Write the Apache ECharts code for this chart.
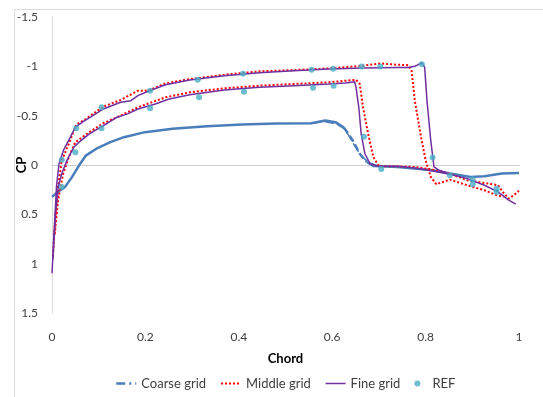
<!DOCTYPE html>
<html>
<head>
<meta charset="utf-8">
<script src="https://cdn.jsdelivr.net/npm/echarts@6/dist/echarts.min.js"></script>
<style>
html,body{margin:0;padding:0;background:#fff;}
#chart{width:543px;height:397px;}
</style>
</head>
<body>
<div id="chart"></div>
<script>
// ---- data (x = chord, y = Cp) ----
const xTicks = [0, 0.2, 0.4, 0.6, 0.8, 1];
const yTicks = [-1.5, -1, -0.5, 0, 0.5, 1, 1.5];

const coarseMain = [[0,0.323],[0.013,0.272],[0.028,0.222],[0.043,0.121],[0.058,0.003],[0.073,-0.098],[0.095,-0.165],[0.125,-0.232],[0.154,-0.282],[0.199,-0.333],[0.258,-0.367],[0.332,-0.393],[0.407,-0.41],[0.481,-0.42],[0.555,-0.424],[0.585,-0.451],[0.607,-0.434],[0.625,-0.38]];
const coarseShock = [[0.625,-0.38],[0.644,-0.249],[0.659,-0.114],[0.674,-0.03]];
const coarseTail = [[0.674,-0.03],[0.688,0.01],[0.74,0.02],[0.815,0.054],[0.852,0.087],[0.896,0.121],[0.926,0.114],[0.963,0.087],[1.0,0.081]];
const coarseLower = [[0.555,-0.42],[0.583,-0.44],[0.61,-0.415],[0.628,-0.36],[0.645,-0.22],[0.662,-0.09],[0.68,-0.02],[0.7,0.012]];

const middleUpper = [[0.002,0.92],[0.007,0.525],[0.013,0.222],[0.021,-0.047],[0.036,-0.215],[0.052,-0.41],[0.073,-0.468],[0.11,-0.592],[0.147,-0.659],[0.184,-0.753],[0.206,-0.753],[0.243,-0.827],[0.295,-0.871],[0.369,-0.915],[0.444,-0.949],[0.518,-0.962],[0.592,-0.979],[0.666,-1.006],[0.703,-1.029],[0.74,-1.016],[0.763,-1.012],[0.77,-0.955],[0.777,-0.65],[0.789,-0.316],[0.8,-0.047],[0.811,0.12],[0.823,0.195],[0.837,0.172],[0.852,0.148],[0.889,0.205],[0.926,0.256],[0.952,0.306],[0.967,0.323]];
const middleLower = [[0.006,0.7],[0.013,0.356],[0.024,0.087],[0.036,-0.08],[0.05,-0.232],[0.08,-0.333],[0.11,-0.424],[0.147,-0.5],[0.184,-0.585],[0.243,-0.686],[0.295,-0.737],[0.369,-0.777],[0.444,-0.804],[0.518,-0.821],[0.592,-0.838],[0.629,-0.854],[0.651,-0.864],[0.659,-0.821],[0.666,-0.585],[0.677,-0.316],[0.688,-0.081],[0.7,0.013],[0.74,0.013],[0.777,0.02],[0.815,0.047],[0.852,0.087],[0.889,0.155],[0.933,0.188],[0.955,0.205],[0.967,0.283],[0.978,0.34],[0.989,0.306],[1.0,0.262]];

const fineUpper = [[0,1.097],[0.0045,0.69],[0.0096,0.22],[0.015,-0.013],[0.0245,-0.148],[0.039,-0.28],[0.05,-0.383],[0.065,-0.434],[0.0875,-0.5],[0.11,-0.568],[0.147,-0.636],[0.169,-0.652],[0.184,-0.703],[0.206,-0.747],[0.243,-0.814],[0.295,-0.861],[0.369,-0.905],[0.444,-0.935],[0.518,-0.955],[0.592,-0.972],[0.666,-0.982],[0.74,-0.989],[0.763,-0.989],[0.777,-1.0],[0.792,-1.036],[0.798,-0.989],[0.803,-0.65],[0.811,-0.25],[0.818,0.02],[0.829,0.054],[0.852,0.094],[0.889,0.138],[0.926,0.205],[0.955,0.272],[0.978,0.356],[0.993,0.397]];
const fineLower = [[0.002,0.955],[0.0074,0.49],[0.0134,0.222],[0.021,0.087],[0.032,-0.047],[0.047,-0.182],[0.058,-0.232],[0.08,-0.316],[0.11,-0.4],[0.139,-0.484],[0.162,-0.518],[0.184,-0.568],[0.221,-0.619],[0.251,-0.669],[0.295,-0.713],[0.369,-0.76],[0.444,-0.787],[0.518,-0.804],[0.592,-0.821],[0.629,-0.831],[0.648,-0.844],[0.651,-0.787],[0.657,-0.585],[0.662,-0.316],[0.67,-0.114],[0.681,-0.013],[0.696,0.01],[0.74,0.013],[0.777,0.03],[0.815,0.06],[0.852,0.094]];

const refPoints = [[0.021,-0.054],[0.021,0.222],[0.052,-0.373],[0.05,-0.128],[0.106,-0.585],[0.106,-0.373],[0.21,-0.753],[0.21,-0.575],[0.312,-0.864],[0.315,-0.686],[0.409,-0.925],[0.411,-0.743],[0.556,-0.965],[0.559,-0.784],[0.602,-0.975],[0.603,-0.804],[0.663,-0.999],[0.668,-0.286],[0.703,-0.999],[0.705,0.041],[0.792,-1.022],[0.815,-0.077],[0.852,0.104],[0.901,0.148],[0.901,0.195],[0.952,0.239],[0.952,0.273]];

// ---- chart ----
const FONT = 'Lato, "Open Sans", sans-serif';
const TXT = '#404040';
const COARSE = '#4a7ebb';
const MIDDLE = '#ff0000';
const FINE = '#7030a0';
const REFC = '#4bacc6';

function lineSeries(name, data, color, width, type, z) {
  return {
    name: name, type: 'line', data: data, showSymbol: false, symbol: 'none',
    smooth: false, animation: false, z: z,
    lineStyle: { color: color, width: width, type: type, cap: 'butt' },
    itemStyle: { color: color }
  };
}

const chart = echarts.init(document.getElementById('chart'), null, { renderer: 'canvas' });
chart.setOption({
  backgroundColor: '#fff',
  animation: false,
  textStyle: { fontFamily: FONT },
  graphic: [{
    type: 'rect', left: 12, top: 7, silent: true,
    shape: { x: 0, y: 0, width: 600, height: 450 },
    style: { fill: 'none', stroke: '#d9d9d9', lineWidth: 1 }
  }],
  grid: { left: 52, right: 24, top: 17, bottom: 84, containLabel: false, outerBoundsMode: 'none' },
  xAxis: {
    type: 'value', min: xTicks[0], max: xTicks[xTicks.length - 1], interval: 0.2,
    name: 'Chord', nameLocation: 'middle', nameGap: 39, nameMoveOverlap: false,
    nameTextStyle: { fontFamily: FONT, fontWeight: 'bold', fontSize: 13, color: '#000' },
    axisLine: { show: true, lineStyle: { color: '#d0d0d0', width: 1 } },
    axisTick: { show: false },
    splitLine: { show: false },
    axisLabel: { margin: 18, fontSize: 12, color: TXT, fontFamily: FONT }
  },
  yAxis: {
    type: 'value', inverse: true, min: yTicks[0], max: yTicks[yTicks.length - 1], interval: 0.5,
    name: 'CP', nameLocation: 'middle', nameGap: 24, nameRotate: 90, nameMoveOverlap: false,
    nameTextStyle: { fontFamily: FONT, fontWeight: 'bold', fontSize: 13, color: '#000', verticalAlign: 'bottom' },
    axisLine: { show: true, lineStyle: { color: '#d9d9d9', width: 1 } },
    axisTick: { show: false },
    splitLine: { show: false },
    axisLabel: { margin: 14, fontSize: 12, color: TXT, fontFamily: FONT }
  },
  legend: {
    top: 372, left: 110, itemGap: 14, itemWidth: 20, itemHeight: 6,
    textStyle: { fontFamily: FONT, fontSize: 13, color: TXT },
    data: [
      { name: 'Coarse grid', itemStyle: { opacity: 0 }, lineStyle: { color: COARSE, width: 2.5, type: [9, 4, 2, 4] } },
      { name: 'Middle grid', itemStyle: { opacity: 0 }, lineStyle: { color: MIDDLE, width: 2, type: [2, 2] } },
      { name: 'Fine grid', itemStyle: { opacity: 0 }, lineStyle: { color: FINE, width: 1.5, type: 'solid' } },
      { name: 'REF', icon: 'circle', itemStyle: { color: REFC } }
    ]
  },
  series: [
    lineSeries('Coarse grid', coarseMain, COARSE, 2.5, 'solid', 2),
    lineSeries('Coarse grid', coarseShock, COARSE, 2.5, [7, 3], 2),
    lineSeries('Coarse grid', coarseTail, COARSE, 2.5, 'solid', 2),
    lineSeries('Coarse grid', coarseLower, COARSE, 1.5, [10, 3], 2),
    lineSeries('Middle grid', middleUpper, MIDDLE, 2, [2, 2], 3),
    lineSeries('Middle grid', middleLower, MIDDLE, 2, [2, 2], 3),
    lineSeries('Fine grid', fineUpper, FINE, 1.5, 'solid', 4),
    lineSeries('Fine grid', fineLower, FINE, 1.5, 'solid', 4),
    {
      name: 'REF', type: 'scatter', data: refPoints, symbol: 'circle', symbolSize: 6,
      itemStyle: { color: REFC }, z: 5, animation: false
    }
  ]
});
</script>
</body>
</html>
